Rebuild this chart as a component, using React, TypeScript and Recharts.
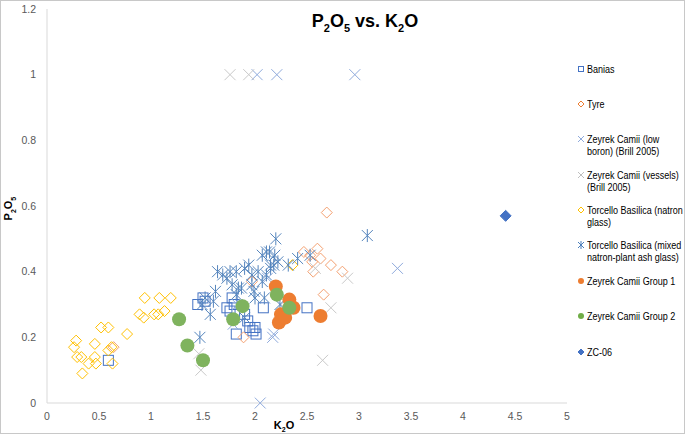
import { Scatter, ScatterChart, XAxis, YAxis } from "recharts";

const xTicks = [0, 0.5, 1, 1.5, 2, 2.5, 3, 3.5, 4, 4.5, 5];
const yTicks = [0, 0.2, 0.4, 0.6, 0.8, 1, 1.2];

const banias = [
  [0.59, 0.13], [1.45, 0.30], [1.50, 0.32], [1.52, 0.31], [1.73, 0.29], [1.76, 0.28],
  [1.78, 0.32], [1.80, 0.30], [1.82, 0.21], [1.90, 0.27], [1.93, 0.25], [1.95, 0.23],
  [1.98, 0.22], [2.00, 0.23], [2.01, 0.21], [2.08, 0.29], [2.50, 0.29],
];
const tyre = [
  [0.64, 0.17], [1.89, 0.20], [1.97, 0.37], [2.47, 0.46], [2.53, 0.45], [2.55, 0.43],
  [2.56, 0.40], [2.60, 0.47], [2.63, 0.44], [2.66, 0.33], [2.69, 0.58], [2.73, 0.42],
  [2.84, 0.40],
];
const lowBoron = [
  [2.02, 1.0], [2.21, 1.0], [2.96, 1.0], [3.37, 0.41], [2.05, 0.0], [2.18, 0.21],
  [2.17, 0.20], [1.83, 0.30], [2.12, 0.38], [1.79, 0.24],
];
const vessels = [
  [1.76, 1.0], [1.94, 1.0], [2.65, 0.13], [2.89, 0.38], [2.73, 0.29], [1.48, 0.10],
  [1.46, 0.15], [2.58, 0.41], [2.25, 0.30],
];
const torcelloNatron = [
  [0.26, 0.17], [0.28, 0.19], [0.29, 0.14], [0.33, 0.14], [0.34, 0.09], [0.40, 0.12],
  [0.46, 0.18], [0.46, 0.14], [0.47, 0.12], [0.52, 0.23], [0.59, 0.23], [0.59, 0.16],
  [0.62, 0.17], [0.63, 0.12], [0.77, 0.21], [0.89, 0.27], [0.93, 0.26], [0.94, 0.32],
  [1.03, 0.27], [1.07, 0.27], [1.08, 0.32], [1.13, 0.28], [1.19, 0.32], [2.36, 0.42],
];
const torcelloMixed = [
  [1.47, 0.20], [1.57, 0.27], [1.49, 0.30], [1.52, 0.32], [1.62, 0.34], [1.64, 0.40],
  [1.69, 0.39], [1.73, 0.38], [1.76, 0.40], [1.82, 0.40], [1.78, 0.36], [1.84, 0.35],
  [1.87, 0.35], [1.82, 0.33], [1.90, 0.41], [1.94, 0.42], [1.97, 0.39], [1.97, 0.36],
  [1.99, 0.34], [2.00, 0.32], [2.03, 0.40], [2.07, 0.37], [2.09, 0.32], [2.11, 0.39],
  [2.07, 0.45], [2.11, 0.46], [2.14, 0.46], [2.15, 0.42], [2.15, 0.41], [2.18, 0.42],
  [2.20, 0.50], [2.19, 0.45], [2.22, 0.43], [2.24, 0.30], [2.32, 0.42], [2.41, 0.44],
  [2.53, 0.45], [3.08, 0.51], [1.90, 0.26], [1.60, 0.31],
];
const group1 = [
  [2.20, 0.355], [2.33, 0.315], [2.37, 0.29], [2.25, 0.27], [2.23, 0.245], [2.29, 0.26],
  [2.63, 0.265],
];
const group2 = [
  [1.27, 0.255], [1.35, 0.175], [1.50, 0.13], [1.79, 0.255], [1.88, 0.295], [2.21, 0.33],
  [2.33, 0.29],
];
const zc06 = [[4.41, 0.57]];

const pts = (a: number[][]) => a.map(([x, y]) => ({ x, y }));

const font = "'Liberation Sans', Arial, sans-serif";

const square = (c: string, s = 5) => (p: any) => (
  <rect x={p.cx - s} y={p.cy - s} width={s * 2} height={s * 2} fill="none" stroke={c} strokeWidth={1} />
);
const diamond = (c: string, s = 5.5, fill = "none") => (p: any) => (
  <polygon
    points={`${p.cx},${p.cy - s} ${p.cx + s},${p.cy} ${p.cx},${p.cy + s} ${p.cx - s},${p.cy}`}
    fill={fill}
    stroke={c}
    strokeWidth={1}
  />
);
const cross = (c: string, s = 5.5) => (p: any) => (
  <path d={`M${p.cx - s},${p.cy - s}L${p.cx + s},${p.cy + s}M${p.cx - s},${p.cy + s}L${p.cx + s},${p.cy - s}`} stroke={c} strokeWidth={1} />
);
const star = (c: string, s = 5.5) => (p: any) => (
  <path
    d={`M${p.cx - s},${p.cy - s}L${p.cx + s},${p.cy + s}M${p.cx - s},${p.cy + s}L${p.cx + s},${p.cy - s}M${p.cx},${p.cy - s - 1}L${p.cx},${p.cy + s + 1}`}
    stroke={c}
    strokeWidth={1}
  />
);
const dot = (c: string, r = 7) => (p: any) => <circle cx={p.cx} cy={p.cy} r={r} fill={c} />;

const legend = [
  { lines: ["Banias"], y: 69, icon: square("#4472C4", 2.5) },
  { lines: ["Tyre"], y: 104, icon: diamond("#ED7D31", 3) },
  { lines: ["Zeyrek Camii (low", "boron) (Brill 2005)"], y: 139, icon: cross("#8FAADC", 3) },
  { lines: ["Zeyrek Camii (vessels)", "(Brill 2005)"], y: 175, icon: cross("#BFBFBF", 3) },
  { lines: ["Torcello Basilica (natron", "glass)"], y: 210, icon: diamond("#FFC000", 3) },
  { lines: ["Torcello Basilica (mixed", "natron-plant ash glass)"], y: 245, icon: star("#4A7EBB", 3) },
  { lines: ["Zeyrek Camii Group 1"], y: 281, icon: dot("#ED7D31", 3) },
  { lines: ["Zeyrek Camii Group 2"], y: 316, icon: dot("#70AD47", 3) },
  { lines: ["ZC-06"], y: 352, icon: diamond("#4472C4", 3, "#4472C4") },
];

const tick = { fontSize: 10.5, fill: "#595959", fontFamily: font };

export default function App() {
  return (
    <div style={{ position: "absolute", left: 0, top: 0, width: 685, height: 434, background: "#fff" }}>
      <ScatterChart width={685} height={434} margin={{ top: 9, right: 118, bottom: 11, left: 7 }}>
        <XAxis
          type="number"
          dataKey="x"
          domain={[0, 5]}
          ticks={xTicks}
          height={20}
          tickLine={false}
          tickSize={0}
          tickMargin={10}
          stroke="#D9D9D9"
          tick={tick}
        />
        <YAxis
          type="number"
          dataKey="y"
          domain={[0, 1.2]}
          ticks={yTicks}
          width={40}
          tickLine={false}
          tickSize={0}
          tickMargin={11}
          stroke="#D9D9D9"
          tick={tick}
        />
        <Scatter data={pts(banias)} shape={square("#4472C4")} strokeOpacity={0.7} isAnimationActive={false} />
        <Scatter data={pts(tyre)} shape={diamond("#F4A070")} isAnimationActive={false} />
        <Scatter data={pts(lowBoron)} shape={cross("#8FAADC")} isAnimationActive={false} />
        <Scatter data={pts(vessels)} shape={cross("#C9C9C9")} isAnimationActive={false} />
        <Scatter data={pts(torcelloNatron)} shape={diamond("#FFC000")} isAnimationActive={false} />
        <Scatter data={pts(torcelloMixed)} shape={star("#5585BD")} isAnimationActive={false} />
        <Scatter data={pts(group1)} shape={dot("#ED7D31")} isAnimationActive={false} />
        <Scatter data={pts(group2)} shape={dot("#7FB35E")} isAnimationActive={false} />
        <Scatter data={pts(zc06)} shape={diamond("#4472C4", 5.5, "#4472C4")} isAnimationActive={false} />
      </ScatterChart>

      <div style={{ position: "absolute", left: 0, top: 0, width: 685, height: 434, boxSizing: "border-box", border: "1px solid #C8C8C8", pointerEvents: "none" }} />

      <div style={{ position: "absolute", left: 250, top: 11, width: 230, textAlign: "center", fontFamily: font, fontWeight: "bold", fontSize: 18, color: "#000" }}>
        P<sub style={{ fontSize: 11 }}>2</sub>O<sub style={{ fontSize: 11 }}>5</sub> vs. K<sub style={{ fontSize: 11 }}>2</sub>O
      </div>

      <div style={{ position: "absolute", left: -19, top: 199, width: 60, textAlign: "center", transform: "rotate(-90deg)", fontFamily: font, fontWeight: "bold", fontSize: 11, lineHeight: "14px" }}>
        P<sub style={{ fontSize: 7 }}>2</sub>O<sub style={{ fontSize: 7 }}>5</sub>
      </div>

      <div style={{ position: "absolute", left: 254, top: 418, width: 60, textAlign: "center", fontFamily: font, fontWeight: "bold", fontSize: 11, lineHeight: "14px" }}>
        K<sub style={{ fontSize: 7 }}>2</sub>O
      </div>

      {legend.map((l) => (
        <div key={l.lines[0]}>
          <svg style={{ position: "absolute", left: 577, top: l.y - 4 }} width={8} height={8}>
            {l.icon({ cx: 4, cy: 4 })}
          </svg>
          {l.lines.map((t, i) => (
            <div
              key={t}
              style={{
                position: "absolute",
                left: 587,
                top: l.y - 7 + i * 12,
                fontFamily: font,
                fontSize: 11,
                lineHeight: "14px",
                whiteSpace: "nowrap",
                color: "#000",
                transform: "scaleX(0.82)",
                transformOrigin: "left center",
              }}
            >
              {t}
            </div>
          ))}
        </div>
      ))}
    </div>
  );
}
